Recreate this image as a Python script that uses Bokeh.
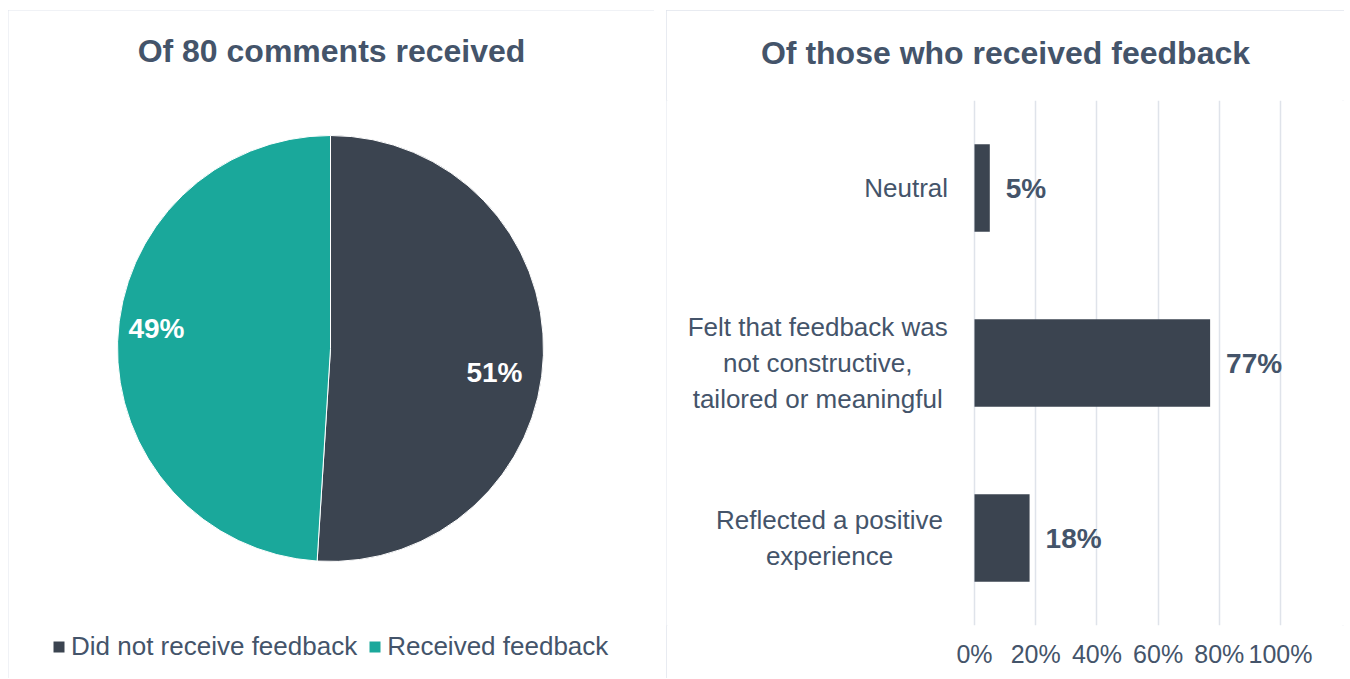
import numpy as np
from bokeh.plotting import figure
from bokeh.models import (ColumnDataSource, Range1d, FactorRange, FixedTicker,
                          PrintfTickFormatter, Legend, LegendItem, LinearAxis)
from bokeh.core.properties import value
from bokeh.embed import file_html
from bokeh.resources import INLINE

# ---------------- data ----------------
pie_labels = ["Did not receive feedback", "Received feedback"]
pie_values = [51, 49]

bar_categories = [
    "Neutral",
    "Felt that feedback was\nnot constructive,\ntailored or meaningful",
    "Reflected a positive\nexperience",
]
bar_values = [5, 77, 18]
x_ticks = [0, 20, 40, 60, 80, 100]

left_title = "Of 80 comments received"
right_title = "Of those who received feedback"

# ---------------- style ----------------
TEXT = "#44546a"
DARK = "#3b4450"
TEAL = "#1aa89b"
GRID = "#dfe3ea"
FONT = "Liberation Sans"
H = 668
W1, W2 = 646, 678
TOP, BOTTOM = 90, 53          # borders around the bar chart frame


def panel_style(left, top):
    return {"outline": "2px solid #e1e5ec", "outline-offset": "-2px",
            "position": "absolute", "left": f"{left}px", "top": f"{top}px"}


# ---------------- left: pie (frame covers the whole panel, 1 unit = 1 px) ----------------
p1 = figure(width=W1, height=H, x_range=Range1d(0, W1), y_range=Range1d(0, H),
            output_backend="svg", toolbar_location=None, min_border=0,
            styles=panel_style(8, 10))
p1.axis.visible = False
p1.grid.visible = False
p1.outline_line_color = None

cx, cy, r = 322, 330, 213
fr = np.array(pie_values, dtype=float) / sum(pie_values)
ends = np.pi / 2 - 2 * np.pi * np.cumsum(fr)
starts = np.concatenate([[np.pi / 2], ends[:-1]])
src = ColumnDataSource(dict(x=[cx] * len(fr), y=[cy] * len(fr), start=starts, end=ends,
                            color=[DARK, TEAL], label=pie_labels))
wr = p1.wedge(x="x", y="y", radius=r, start_angle="start", end_angle="end",
              direction="clock", fill_color="color", line_color="white", line_width=1,
              source=src)

# pie data labels (layout offsets from centre, in px)
lab_dx = [164, -174]
lab_dy = [-24, 20]
p1.text(x=[cx + d for d in lab_dx], y=[cy + d for d in lab_dy],
        text=[f"{v}%" for v in pie_values], text_color="white",
        text_font=value(FONT), text_font_style="bold", text_font_size="28px",
        text_align="center", text_baseline="middle")

p1.text(x=[W1 / 2], y=[H - 40], text=[left_title], text_color=TEXT,
        text_font=value(FONT), text_font_style="bold", text_font_size="32px",
        text_align="center", text_baseline="middle")

lg = Legend(items=[LegendItem(label=lab, renderers=[wr], index=i)
                   for i, lab in enumerate(pie_labels)])
lg.orientation = "horizontal"
lg.location = (43, 16)
lg.label_text_font = FONT
lg.label_text_font_size = "26px"
lg.label_text_color = TEXT
lg.glyph_width = 15
lg.glyph_height = 15
lg.label_standoff = 5
lg.spacing = 10
lg.padding = 0
lg.margin = 0
lg.border_line_color = None
lg.background_fill_alpha = 0
p1.add_layout(lg)

# ---------------- right: bars ----------------
ZERO_PX = 308      # horizontal position of 0% inside the panel
PX = 3.06          # pixels per percentage point
p2 = figure(width=W2, height=H,
            x_range=Range1d(-ZERO_PX / PX, (W2 - ZERO_PX) / PX),
            y_range=FactorRange(factors=list(reversed(bar_categories))),
            output_backend="svg", toolbar_location=None,
            min_border_left=0, min_border_right=0, min_border_top=TOP,
            min_border_bottom=BOTTOM, styles=panel_style(666, 10))
p2.outline_line_color = None
p2.yaxis.visible = False
p2.ygrid.visible = False
p2.title.visible = False

# bottom percentage axis
xa = p2.below[0]
xa.ticker = FixedTicker(ticks=x_ticks)
xa.formatter = PrintfTickFormatter(format="%d%%")
xa.axis_line_color = None
xa.major_tick_line_color = None
xa.minor_tick_line_color = None
xa.major_tick_out = 0
xa.major_label_standoff = 14
xa.major_label_text_font = FONT
xa.major_label_text_font_size = "25px"
xa.major_label_text_color = TEXT

p2.xgrid.ticker = FixedTicker(ticks=x_ticks)
p2.xgrid.grid_line_color = GRID
p2.xgrid.grid_line_width = 1.5

# chart heading carried by an (otherwise empty) axis above the frame
top_axis = LinearAxis(ticker=FixedTicker(ticks=[]), axis_label=right_title,
                      axis_line_color=None, major_tick_line_color=None,
                      minor_tick_line_color=None, major_tick_out=0,
                      major_tick_in=0, minor_tick_out=0, major_label_standoff=0,
                      major_label_text_font_size="0px",
                      axis_label_standoff=30, axis_label_text_font=FONT,
                      axis_label_text_font_size="32px",
                      axis_label_text_font_style="bold",
                      axis_label_text_color=TEXT)
p2.add_layout(top_axis, "above")

p2.hbar(y=bar_categories, left=0, right=bar_values, height=0.5,
        fill_color=DARK, line_color=None)

p2.text(x=bar_values, y=bar_categories, text=[f"{v}%" for v in bar_values],
        x_offset=16, text_color=TEXT, text_font=value(FONT),
        text_font_style="bold", text_font_size="28px",
        text_align="left", text_baseline="middle")

# category labels: block right-aligned left of 0%, lines centred
est_w = [11.8 * max(len(s) for s in c.split("\n")) for c in bar_categories]
cat_x = [-(27 + w / 2) / PX for w in est_w]
p2.text(x=cat_x, y=bar_categories, text=bar_categories, text_color=TEXT,
        text_font=value(FONT), text_font_size="26px", text_line_height=1.2,
        text_align="center", text_baseline="middle")

open("out.html", "w").write(file_html([p1, p2], INLINE))
